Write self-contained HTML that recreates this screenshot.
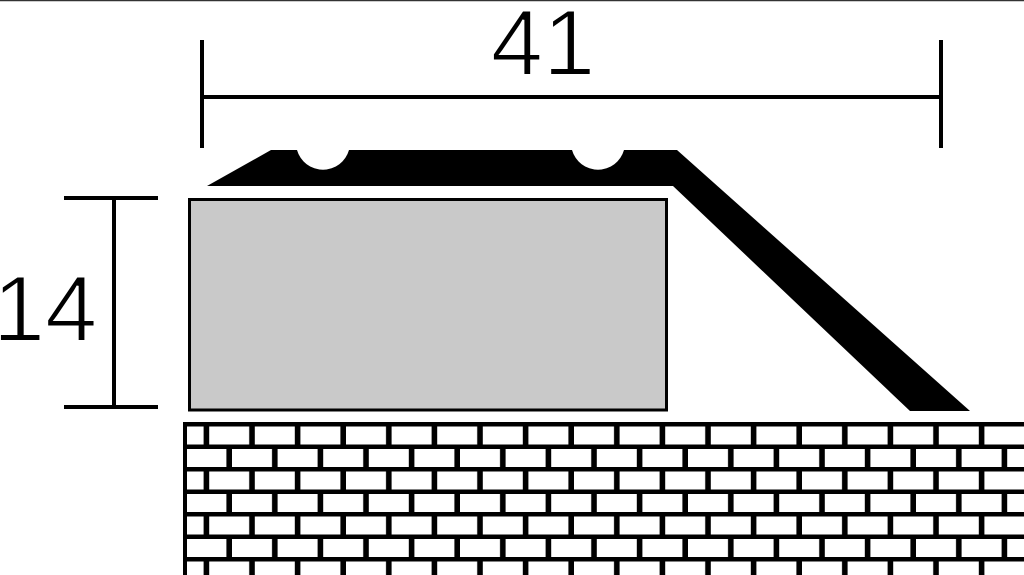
<!DOCTYPE html>
<html><head><style>html,body{margin:0;padding:0;background:#fff;}svg{display:block}</style></head>
<body>
<svg width="1024" height="575" viewBox="0 0 1024 575" xmlns="http://www.w3.org/2000/svg">
<defs>
<pattern id="br" patternUnits="userSpaceOnUse" x="186.4" y="426.5" width="45.6" height="45">
<rect x="22.8" y="0" width="40" height="18" fill="#fff"/>
<rect x="-22.8" y="0" width="40" height="18" fill="#fff"/>
<rect x="0" y="22.5" width="40" height="18" fill="#fff"/>
</pattern>
</defs>
<rect width="1024" height="575" fill="#fff"/>
<line x1="0" y1="0.5" x2="1024" y2="0.5" stroke="#333" stroke-width="1.5"/>
<rect x="183" y="422" width="841" height="153" fill="#000"/>
<rect x="187" y="426" width="837" height="149" fill="url(#br)"/>
<rect x="189.5" y="199.5" width="477" height="210.5" fill="#c9c9c9" stroke="#000" stroke-width="3"/>
<path d="M207,186 L271,150 L297,150 A27,27 0 0 0 349,150 L572,150 A27,27 0 0 0 624,150 L677,150 L970,411 L910,411 L673,186 Z" fill="#000"/>
<g stroke="#000" stroke-width="4">
<line x1="202" y1="40" x2="202" y2="148"/>
<line x1="941" y1="40" x2="941" y2="148"/>
<line x1="202" y1="97" x2="941" y2="97"/>
<line x1="114" y1="198" x2="114" y2="407"/>
<line x1="64" y1="198" x2="158" y2="198"/>
<line x1="64" y1="407" x2="158" y2="407"/>
</g>
<text x="543" y="75" font-family="Liberation Sans, sans-serif" font-size="94" text-anchor="middle" fill="#000" stroke="#fff" stroke-width="2">41</text>
<text x="45" y="341" font-family="Liberation Sans, sans-serif" font-size="94" text-anchor="middle" fill="#000" stroke="#fff" stroke-width="2">14</text>
</svg>
</body></html>
